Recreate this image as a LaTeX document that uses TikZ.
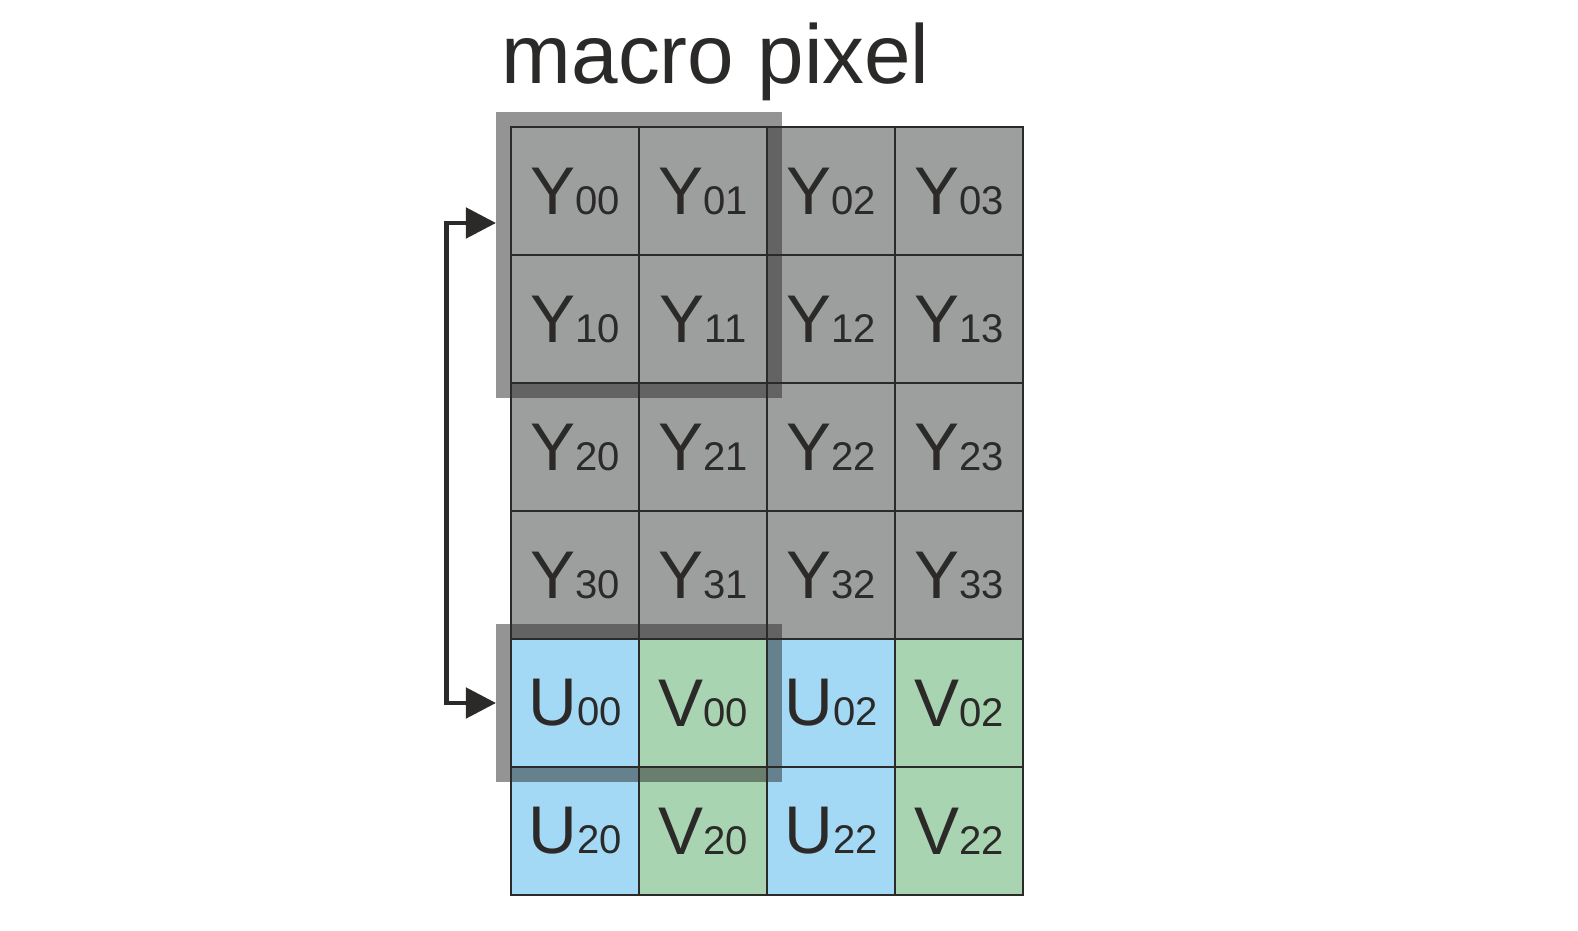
\documentclass[tikz,border=0pt]{standalone}
\usepackage{fontspec}
\setmainfont{Liberation Sans}
\usepackage{tikz}
\usetikzlibrary{arrows.meta, positioning, fit}
\usepackage{xcolor}
\definecolor{ygray}{HTML}{9D9E9E}
\definecolor{ublue}{HTML}{A3D9F5}
\definecolor{vgreen}{HTML}{A8D4B1}
\definecolor{linecol}{HTML}{2B2A29}
\newcommand{\pixlabel}[2]{#1{\fontsize{8.9pt}{9pt}\selectfont #2}}
\tikzstyle{ycell} = [rectangle, minimum size=1cm, inner sep=0pt, draw=linecol, line width=0.45pt, fill=ygray, text=linecol, font=\fontsize{15pt}{16pt}\selectfont]
\tikzstyle{ucell} = [ycell, fill=ublue]
\tikzstyle{vcell} = [ycell, fill=vgreen]
\tikzstyle{macro} = [rectangle, draw=linecol, draw opacity=0.5, line width=3.11pt, inner sep=1.556pt]
\tikzstyle{arrow} = [line width=1.1pt, draw=linecol, <->, >={Triangle[length=6.7pt, width=6.7pt]}]

\begin{document}
\begin{tikzpicture}[node distance=1cm]

\path[use as bounding box] (0,0) rectangle (12.328,-7.266);

\node (y00) [ycell] at (4.492,-1.492) {\pixlabel{Y}{00}};
\node (y01) [ycell, right of=y00] {\pixlabel{Y}{01}};
\node (y02) [ycell, right of=y01] {\pixlabel{Y}{02}};
\node (y03) [ycell, right of=y02] {\pixlabel{Y}{03}};
\node (y10) [ycell, below of=y00] {\pixlabel{Y}{10}};
\node (y11) [ycell, right of=y10] {\pixlabel{Y}{11}};
\node (y12) [ycell, right of=y11] {\pixlabel{Y}{12}};
\node (y13) [ycell, right of=y12] {\pixlabel{Y}{13}};
\node (y20) [ycell, below of=y10] {\pixlabel{Y}{20}};
\node (y21) [ycell, right of=y20] {\pixlabel{Y}{21}};
\node (y22) [ycell, right of=y21] {\pixlabel{Y}{22}};
\node (y23) [ycell, right of=y22] {\pixlabel{Y}{23}};
\node (y30) [ycell, below of=y20] {\pixlabel{Y}{30}};
\node (y31) [ycell, right of=y30] {\pixlabel{Y}{31}};
\node (y32) [ycell, right of=y31] {\pixlabel{Y}{32}};
\node (y33) [ycell, right of=y32] {\pixlabel{Y}{33}};
\node (u00) [ucell, below of=y30] {\pixlabel{U}{00}};
\node (v00) [vcell, right of=u00] {\pixlabel{V}{00}};
\node (u02) [ucell, right of=v00] {\pixlabel{U}{02}};
\node (v02) [vcell, right of=u02] {\pixlabel{V}{02}};
\node (u20) [ucell, below of=u00] {\pixlabel{U}{20}};
\node (v20) [vcell, right of=u20] {\pixlabel{V}{20}};
\node (u22) [ucell, right of=v20] {\pixlabel{U}{22}};
\node (v22) [vcell, right of=u22] {\pixlabel{V}{22}};

\node (title) [anchor=base west, inner sep=0pt, text=linecol, font=\fontsize{18.6pt}{20pt}\selectfont] at ([xshift=-0.07cm, yshift=0.33cm]y00.north west) {macro pixel};

\node (mp1) [macro, fit=(y00)(y11)] {};
\node (mp2) [macro, fit=(u00)(v00)] {};

\draw [arrow] ([yshift=0.25cm]mp1.west) -- ++(-0.383,0) |- (mp2.west);

\end{tikzpicture}
\end{document}
